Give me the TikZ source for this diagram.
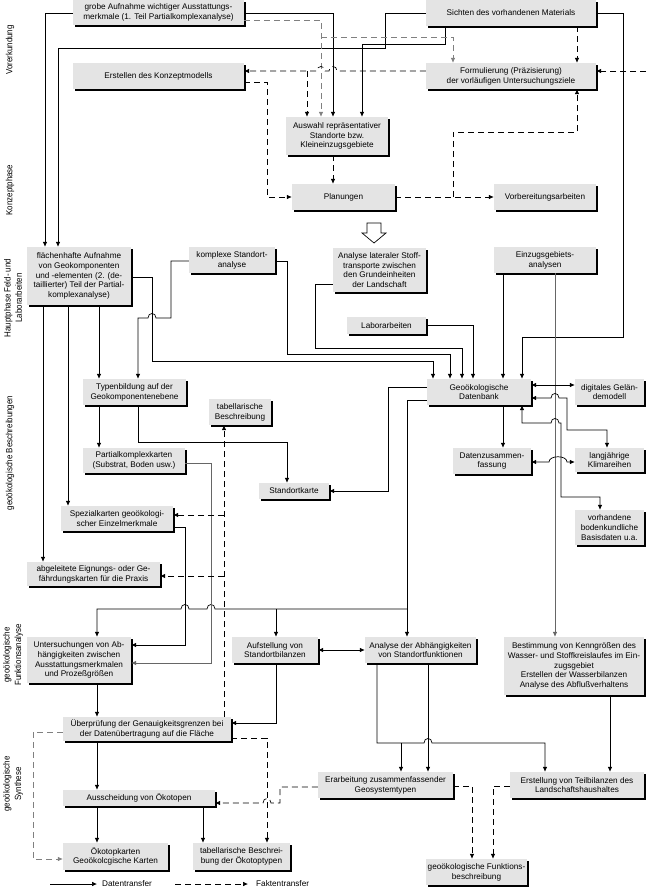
\documentclass[tikz,border=0pt]{standalone}
\usepackage{fontspec}
\setmainfont{Liberation Sans}
\usetikzlibrary{arrows.meta,shadows}
\definecolor{boxgray}{RGB}{228,228,228}
\begin{document}
\begin{tikzpicture}[x=1pt,y=-1pt,
  >={Latex[length=5pt,width=4.6pt]},
  box/.style={fill=boxgray, align=center, inner sep=1pt, font=\fontsize{8.2}{9.8}\selectfont,
    drop shadow={shadow xshift=2pt,shadow yshift=-2pt,fill=black,opacity=1}},
  data/.style={draw=black,line width=0.7pt,->},
  fakt/.style={data,dash pattern=on 6pt off 4pt},
  faktgray/.style={fakt,draw=black!50},
  datagray/.style={data,draw=black!60},
  side/.style={rotate=90, align=center, font=\fontsize{9}{10}\selectfont},
  legtext/.style={anchor=west, font=\fontsize{8.2}{9.8}\selectfont, inner sep=0pt},
]
\fill[white] (0,0) rectangle (646,889);
\useasboundingbox (0,0) rectangle (646,889);

% ---------- side labels ----------
\node[side] (s1) at (10,50) {\scalebox{0.88}[1]{Vorerkundung}};
\node[side] (s2) at (10,190) {\scalebox{0.88}[1]{Konzeptphase}};
\node[side] (s3) at (13,298) {\scalebox{0.88}[1]{\shortstack{Hauptphase Feld- und\\Laborarbeiten}}};
\node[side] (s4) at (10,453) {\scalebox{0.88}[1]{geoökologische Beschreibungen}};
\node[side] (s5) at (13,655) {\scalebox{0.88}[1]{\shortstack{geoökologische\\Funktionsanalyse}}};
\node[side] (s6) at (13,784) {\scalebox{0.88}[1]{\shortstack{geoökologische\\Synthese}}};

% ---------- boxes ----------
\node[box,minimum width=171pt,minimum height=25pt] (grobe) at (158.5,12.5) {grobe Aufnahme wichtiger Ausstattungs-\\merkmale (1. Teil Partialkomplexanalyse)};
\node[box,minimum width=170pt,minimum height=26pt] (sichten) at (511,13) {Sichten des vorhandenen Materials};
\node[box,minimum width=171pt,minimum height=26pt] (erstellen) at (158.5,76) {Erstellen des Konzeptmodells};
\node[box,minimum width=170pt,minimum height=26pt] (formul) at (511,76) {Formulierung (Präzisierung)\\der vorläufigen Untersuchungsziele};
\node[box,minimum width=102pt,minimum height=38pt] (auswahl) at (337,136) {Auswahl repräsentativer\\Standorte bzw.\\Kleineinzugsgebiete};
\node[box,minimum width=103pt,minimum height=26pt] (planungen) at (343.5,197) {Planungen};
\node[box,minimum width=102pt,minimum height=26pt] (vorb) at (545,197) {Vorbereitungsarbeiten};
\node[box,minimum width=93pt,minimum height=44pt] (lateral) at (379.5,270) {Analyse lateraler Stoff-\\transporte zwischen\\den Grundeinheiten\\der Landschaft};
\node[box,minimum width=104pt,minimum height=58pt] (flaech) at (79,276) {flächenhafte Aufnahme\\von Geokomponenten\\und -elementen (2. (de-\\taillierter) Teil der Partial-\\komplexanalyse)};
\node[box,minimum width=86pt,minimum height=26pt] (komplexe) at (232,260) {komplexe Standort-\\analyse};
\node[box,minimum width=102pt,minimum height=26pt] (einzugs) at (545,260) {Einzugsgebiets-\\analysen};
\node[box,minimum width=79pt,minimum height=17pt] (labor) at (386.5,325.5) {Laborarbeiten};
\node[box,minimum width=104pt,minimum height=26pt] (datenbank) at (479,392) {Geoökologische\\Datenbank};
\node[box,minimum width=69pt,minimum height=26pt] (digital) at (609.5,392) {digitales Gelän-\\demodell};
\node[box,minimum width=103pt,minimum height=26pt] (typen) at (134.5,392) {Typenbildung auf der\\Geokomponentenebene};
\node[box,minimum width=62pt,minimum height=26pt] (tabbesch) at (240,412) {tabellarische\\Beschreibung};
\node[box,minimum width=102pt,minimum height=25pt] (partial) at (134,460.5) {Partialkomplexkarten\\(Substrat, Boden usw.)};
\node[box,minimum width=78pt,minimum height=26pt] (datenz) at (492,461) {Datenzusammen-\\fassung};
\node[box,minimum width=69pt,minimum height=24pt] (klima) at (609.5,460) {langjährige\\Klimareihen};
\node[box,minimum width=70pt,minimum height=16pt] (standort) at (294,491) {Standortkarte};
\node[box,minimum width=112pt,minimum height=25pt] (spezial) at (117,518.5) {Spezialkarten geoökologi-\\scher Einzelmerkmale};
\node[box,minimum width=69pt,minimum height=35pt] (boden) at (609.5,527.5) {vorhandene\\bodenkundliche\\Basisdaten u.a.};
\node[box,minimum width=133pt,minimum height=24pt] (abgel) at (93.5,574) {abgeleitete Eignungs- oder Ge-\\fährdungskarten für die Praxis};
\node[box,minimum width=104pt,minimum height=46pt] (unters) at (79,660) {Untersuchungen von Ab-\\hängigkeiten zwischen\\Ausstattungsmerkmalen\\und Prozeßgrößen};
\node[box,minimum width=86pt,minimum height=26pt] (aufst) at (275,650) {Aufstellung von\\Standortbilanzen};
\node[box,minimum width=111pt,minimum height=26pt] (analyseabh) at (420.5,650) {Analyse der Abhängigkeiten\\von Standortfunktionen};
\node[box,minimum width=140pt,minimum height=58pt] (bestimmung) at (574,666) {Bestimmung von Kenngrößen des\\Wasser- und Stoffkreislaufes im Ein-\\zugsgebiet\\Erstellen der Wasserbilanzen\\Analyse des Abflußverhaltens};
\node[box,minimum width=168pt,minimum height=24pt] (ueber) at (147,729) {Überprüfung der Genauigkeitsgrenzen bei\\der Datenübertragung auf die Fläche};
\node[box,minimum width=152pt,minimum height=16pt] (aussch) at (139,798) {Ausscheidung von Ökotopen};
\node[box,minimum width=105pt,minimum height=27pt] (oekokarten) at (115.5,856.5) {Ökotopkarten\\Geoökolcgische Karten};
\node[box,minimum width=97pt,minimum height=27pt] (tabtypen) at (241.5,856.5) {tabellarische Beschrei-\\bung der Ökotoptypen};
\node[box,minimum width=135pt,minimum height=26pt] (erarb) at (385.5,785) {Erarbeitung zusammenfassender\\Geosystemtypen};
\node[box,minimum width=134pt,minimum height=26pt] (erstell) at (577,785) {Erstellung von Teilbilanzen des\\Landschaftshaushaltes};
\node[box,minimum width=101pt,minimum height=26pt] (funkt) at (476.5,872) {geoökologische Funktions-\\beschreibung};

% ---------- hollow arrow ----------
\draw[fill=white,line width=0.7pt] (367,223) -- (381,223) -- (381,233) -- (386,233) -- (374,243) -- (362,233) -- (367,233) -- cycle;

% ---------- top: data transfer ----------
\draw[data] (grobe.west |- 0,13) -- (45,13) -- (flaech.north -| 45,0);
\draw[data] (grobe.east |- 0,13) -- (333,13) -- (auswahl.north -| 333,0);
\draw[data] (sichten.west |- 0,13) -- (385,13) -- (385,48) -- (58,48) -- (flaech.north -| 58,0);
\draw[data] (sichten.south -| 445,0) -- (445,44) -- (362,44) -- (auswahl.north -| 362,0);
\draw[data] (sichten.east |- 0,13) -- (623,13) -- (623,337) -- (522,337) -- (datenbank.north -| 522,0);

% ---------- top: fact transfer ----------
\draw[faktgray] (grobe.east |- 0,20) -- (321,20) -- (auswahl.north -| 321,0);
\coordinate (j1) at (321,37);
\draw[faktgray] (j1) -- (453,37) -- (formul.north -| 453,0);
\draw[fakt] (sichten.south -| 577,0) -- (formul.north -| 577,0);
\coordinate (rin) at (646,71);
\draw[fakt] (rin) -- (formul.east |- 0,71);
\draw[fakt] (formul.west |- 0,71) -- (337,71) .. controls (337,65) and (329,65) .. (329,71) -- (325,71) .. controls (325,65) and (317,65) .. (317,71) -- (erstellen.east |- 0,71);
\coordinate (j2) at (307,71);
\draw[fakt] (j2) -- (auswahl.north -| 307,0);
\draw[fakt] (erstellen.east |- 0,82) -- (267,82) -- (267,197) -- (planungen.west);
\draw[fakt] (auswahl.south -| 333,0) -- (planungen.north -| 333,0);
\draw[fakt] (planungen.east) -- (vorb.west);
\coordinate (j3) at (453,197);
\draw[fakt] (j3) -- (453,132) -- (577,132) -- (formul.south -| 577,0);

% ---------- field work -> Datenbank ----------
\draw[data] (flaech.east |- 0,277) -- (152,277) -- (152,361) -- (433,361) -- (datenbank.north -| 433,0);
\draw[data] (komplexe.west |- 0,261) -- (171,261) -- (171,318) -- (156,318) .. controls (156,312) and (148,312) .. (148,318) -- (138,318) -- (typen.north -| 138,0);
\draw[data] (komplexe.east |- 0,261) -- (287,261) -- (287,354) -- (450,354) -- (datenbank.north -| 450,0);
\draw[data] (lateral.west |- 0,284) -- (315,284) -- (315,348) -- (462,348) -- (datenbank.north -| 462,0);
\draw[data] (labor.east) -- (473,325.5) -- (datenbank.north -| 473,0);
\draw[data] (einzugs.south -| 503,0) -- (datenbank.north -| 503,0);
\draw[datagray] (einzugs.south -| 555,0) -- (bestimmung.north -| 555,0);

% ---------- Datenbank neighbourhood ----------
\draw[data,<->] (datenbank.east |- 0,385) -- (digital.west |- 0,385);
\draw[data,<->] (datenbank.east |- 0,398) -- (551,398) .. controls (551,392) and (559,392) .. (559,398) -- (567,398) -- (567,430) -- (607,430) -- (klima.north -| 607,0);
\draw[data,<->] (datenbank.south -| 522,0) -- (522,423) -- (551,423) .. controls (551,417) and (559,417) .. (559,423) -- (561,423) -- (561,497) -- (600,497) -- (boden.north -| 600,0);
\draw[data] (datenbank.south -| 503,0) -- (datenz.north -| 503,0);
\draw[data,<->] (datenz.east |- 0,462) -- (549,462) .. controls (549,455) and (567,455) .. (567,462) -- (klima.west |- 0,462);
\draw[data] (datenbank.west |- 0,387) -- (388,387) -- (388,491) -- (standort.east);
\draw[data] (datenbank.west |- 0,400) -- (407,400) -- (analyseabh.north -| 407,0);
\coordinate (j4) at (407,609);
\draw[data] (j4) -- (215,609) .. controls (215,603) and (207,603) .. (207,609) -- (189,609) .. controls (189,603) and (181,603) .. (181,609) -- (97,609) -- (unters.north -| 97,0);
\coordinate (j5) at (276,609);
\draw[data] (j5) -- (aufst.north -| 276,0);

% ---------- descriptions ----------
\draw[data] (flaech.south -| 99,0) -- (typen.north -| 99,0);
\draw[data] (flaech.south -| 68,0) -- (spezial.north -| 68,0);
\draw[data] (flaech.south -| 43,0) -- (abgel.north -| 43,0);
\draw[data] (typen.south -| 99,0) -- (partial.north -| 99,0);
\draw[data] (typen.south -| 138,0) -- (138,442) -- (287,442) -- (standort.north -| 287,0);
\draw[data] (spezial.east |- 0,527) -- (185,527) -- (185,645) -- (unters.east |- 0,645);
\draw[datagray] (partial.east |- 0,463) -- (211,463) -- (211,663) -- (unters.east |- 0,663);

% ---------- function analysis ----------
\draw[data,<->] (aufst.east) -- (analyseabh.west);
\draw[data] (aufst.south -| 276,0) -- (276,723) -- (ueber.east |- 0,723);
\draw[data] (unters.south -| 97,0) -- (ueber.north -| 97,0);
\draw[fakt] (ueber.north -| 224,0) -- (tabbesch.south -| 224,0);
\coordinate (j6) at (224,515);
\draw[fakt] (j6) -- (spezial.east |- 0,515);
\coordinate (j7) at (224,576);
\draw[fakt] (j7) -- (abgel.east |- 0,576);

% ---------- synthesis ----------
\draw[faktgray] (ueber.west |- 0,732) -- (33,732) -- (33,859) -- (oekokarten.west |- 0,859);
\draw[fakt] (ueber.east |- 0,738) -- (267,738) -- (tabtypen.north -| 267,0);
\draw[data] (ueber.south -| 97,0) -- (aussch.north -| 97,0);
\draw[data] (aussch.south -| 97,0) -- (oekokarten.north -| 97,0);
\draw[data] (aussch.south -| 203,0) -- (tabtypen.north -| 203,0);
\draw[fakt] (erarb.west |- 0,787) -- (280,787) -- (280,803) -- (271,803) .. controls (271,797) and (263,797) .. (263,803) -- (aussch.east |- 0,803);
\draw[data] (analyseabh.south -| 377,0) -- (377,743) -- (424,743) .. controls (424,737) and (432,737) .. (432,743) -- (545,743) -- (erstell.north -| 545,0);
\coordinate (j8) at (401,743);
\draw[data] (j8) -- (erarb.north -| 401,0);
\draw[data] (analyseabh.south -| 428,0) -- (erarb.north -| 428,0);
\draw[data] (bestimmung.south -| 610,0) -- (erstell.north -| 610,0);
\draw[fakt] (erarb.east |- 0,786) -- (472,786) -- (funkt.north -| 472,0);
\draw[fakt] (erstell.west |- 0,786) -- (493,786) -- (funkt.north -| 493,0);

% ---------- legend ----------
\coordinate (l1) at (50,884);
\coordinate (l2) at (97,884);
\draw[data] (l1) -- (l2);
\node[legtext] (ldat) at (102,884) {Datentransfer};
\coordinate (l3) at (175,884);
\coordinate (l4) at (248,884);
\draw[fakt] (l3) -- (l4);
\node[legtext] (lfak) at (256,884) {Faktentransfer};
\end{tikzpicture}
\end{document}
